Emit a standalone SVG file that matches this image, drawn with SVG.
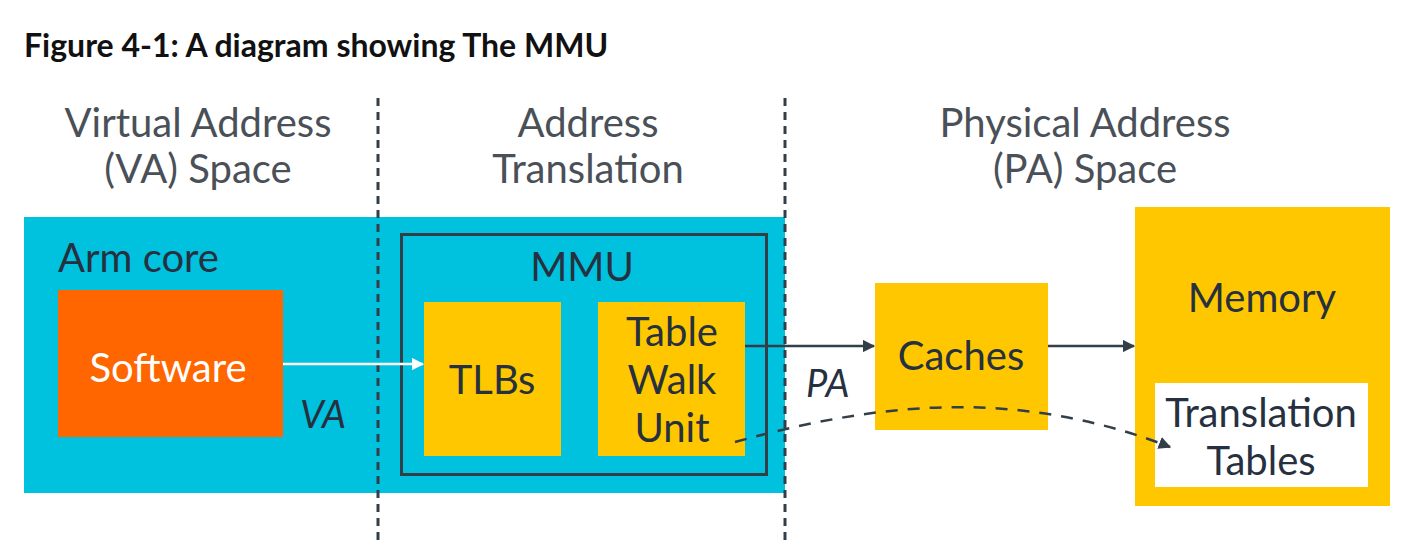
<svg xmlns="http://www.w3.org/2000/svg" width="1404" height="547" viewBox="0 0 1404 547">
<style>
.hd{font-family:Lato,"Open Sans","Liberation Sans",sans-serif;font-size:40px;fill:#4a5058;text-anchor:middle}
.lb{font-family:Lato,"Open Sans","Liberation Sans",sans-serif;font-size:40px;fill:#26303f;text-anchor:middle}
.it{font-family:Lato,"Open Sans","Liberation Sans",sans-serif;font-size:38px;font-style:italic;fill:#26303f}
.yel{fill:#FFC700}
.sep{stroke:#333F48;stroke-width:3;stroke-dasharray:8 6;fill:none}
.con{stroke:#333F48;stroke-width:2.5;fill:none}
</style>
<defs>
<marker id="ah" viewBox="0 0 10 10" refX="9" refY="5" markerWidth="5" markerHeight="5" orient="auto" markerUnits="strokeWidth"><path d="M0,0 L10,5 L0,10 z" fill="#333F48"/></marker>
<marker id="ahw" viewBox="0 0 10 10" refX="9" refY="5" markerWidth="5" markerHeight="5" orient="auto" markerUnits="strokeWidth"><path d="M0,0 L10,5 L0,10 z" fill="#ffffff"/></marker>
</defs>
<rect width="1404" height="547" fill="#ffffff"/>
<text x="24" y="57" font-family="Lato,'Open Sans','Liberation Sans',sans-serif" font-weight="bold" font-size="32" fill="#111111">Figure 4-1: A diagram showing The MMU</text>
<g id="headings">
<text class="hd" x="198" y="137">Virtual Address</text>
<text class="hd" x="198" y="183">(VA) Space</text>
<text class="hd" x="588" y="137">Address</text>
<text class="hd" x="588" y="183">Translation</text>
<text class="hd" x="1085" y="137">Physical Address</text>
<text class="hd" x="1085" y="183">(PA) Space</text>
</g>
<g id="armcore">
<rect x="24" y="217" width="761" height="276" fill="#00C1DE"/>
<text x="58" y="272" font-family="Lato,'Open Sans','Liberation Sans',sans-serif" font-size="40" fill="#26303f">Arm core</text>
</g>
<g id="software">
<rect x="58" y="290" width="225" height="147" fill="#FF6600"/>
<text class="lb" x="168" y="382" style="fill:#ffffff">Software</text>
</g>
<g id="mmu">
<rect x="401.5" y="234.5" width="365" height="240" fill="none" stroke="#333F48" stroke-width="3"/>
<text class="lb" x="582" y="281">MMU</text>
</g>
<g id="tlbs">
<rect class="yel" x="424" y="302" width="137" height="154"/>
<text class="lb" x="492" y="394">TLBs</text>
</g>
<g id="tablewalk">
<rect class="yel" x="598" y="302" width="147" height="154"/>
<text class="lb" x="672" y="346">Table</text>
<text class="lb" x="672" y="394">Walk</text>
<text class="lb" x="672" y="442">Unit</text>
</g>
<g id="caches">
<rect class="yel" x="875" y="283" width="173" height="147"/>
<text class="lb" x="961" y="370">Caches</text>
</g>
<g id="memory">
<rect class="yel" x="1135" y="207" width="255" height="299"/>
<text class="lb" x="1262" y="312">Memory</text>
</g>
<g id="translationtables">
<rect x="1155" y="383" width="213" height="104" fill="#ffffff"/>
<text class="lb" x="1261" y="427">Translation</text>
<text class="lb" x="1261" y="475">Tables</text>
</g>
<g id="separators">
<line class="sep" x1="378" y1="98" x2="378" y2="540"/>
<line class="sep" x1="785" y1="98" x2="785" y2="540"/>
</g>
<g id="connectors">
<line x1="283" y1="364" x2="423" y2="364" stroke="#ffffff" stroke-width="2.5" marker-end="url(#ahw)"/>
<line class="con" x1="745" y1="346" x2="874" y2="346" marker-end="url(#ah)"/>
<line class="con" x1="1048" y1="346" x2="1134" y2="346" marker-end="url(#ah)"/>
<path class="con" d="M735 442 C870 405 1010 385 1170 447" stroke-dasharray="12 10" marker-end="url(#ah)"/>
<text class="it" x="300" y="428">VA</text>
<text class="it" x="806" y="397">PA</text>
</g>
</svg>
